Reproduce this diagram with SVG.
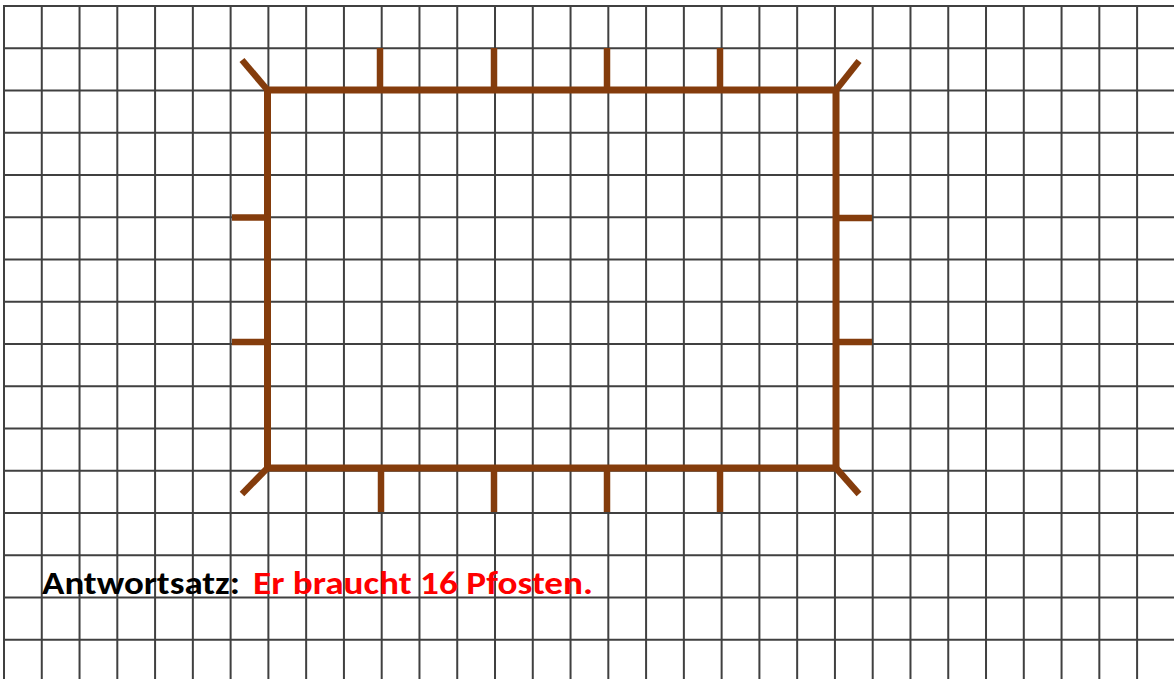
<svg xmlns="http://www.w3.org/2000/svg" width="1174" height="679" viewBox="0 0 1174 679">
<style>
.grid{fill:none;stroke:#404040;stroke-width:2}
.fence{fill:none;stroke:#843C0C;stroke-width:7;stroke-linejoin:miter}
.post{stroke:#843C0C;stroke-width:6.5;stroke-linecap:butt}
.txt{font-family:Carlito,Lato,"Liberation Sans",sans-serif;font-weight:900;font-size:33px}
</style>
<rect width="1174" height="679" fill="#ffffff"/>
<g id="grid">
<path class="grid" d="M4 6V679M41.77 6V679M79.54 6V679M117.31 6V679M155.08 6V679M192.85 6V679M230.62 6V679M268.39 6V679M306.16 6V679M343.93 6V679M381.7 6V679M419.47 6V679M457.24 6V679M495.01 6V679M532.78 6V679M570.55 6V679M608.32 6V679M646.09 6V679M683.86 6V679M721.63 6V679M759.4 6V679M797.17 6V679M834.94 6V679M872.71 6V679M910.48 6V679M948.25 6V679M986.02 6V679M1023.79 6V679M1061.56 6V679M1099.33 6V679M1137.1 6V679"/>
<path class="grid" d="M3 6H1174M3 48.25H1174M3 90.5H1174M3 132.75H1174M3 175H1174M3 217.25H1174M3 259.5H1174M3 301.75H1174M3 344H1174M3 386.25H1174M3 428.5H1174M3 470.75H1174M3 513H1174M3 555.25H1174M3 597.5H1174M3 639.75H1174"/>
</g>
<g id="fence">
<rect class="fence" x="267.5" y="90" width="568.5" height="378"/>
</g>
<g id="posts">
<line class="post" x1="267.5" y1="90" x2="242" y2="60"/>
<line class="post" x1="836" y1="90" x2="859" y2="61"/>
<line class="post" x1="267.5" y1="468" x2="242" y2="494"/>
<line class="post" x1="836" y1="468" x2="859" y2="494"/>
<line class="post" x1="380" y1="48" x2="380" y2="90"/>
<line class="post" x1="494" y1="48" x2="494" y2="90"/>
<line class="post" x1="607" y1="48" x2="607" y2="90"/>
<line class="post" x1="720" y1="48" x2="720" y2="90"/>
<line class="post" x1="381" y1="468" x2="381" y2="512"/>
<line class="post" x1="494" y1="468" x2="494" y2="512"/>
<line class="post" x1="607" y1="468" x2="607" y2="512"/>
<line class="post" x1="720" y1="468" x2="720" y2="512"/>
<line class="post" x1="232" y1="217.5" x2="267.5" y2="217.5"/>
<line class="post" x1="232" y1="342" x2="267.5" y2="342"/>
<line class="post" x1="836" y1="218" x2="872" y2="218"/>
<line class="post" x1="836" y1="342" x2="872" y2="342"/>
</g>
<g id="answer">
<text class="txt" x="42" y="594" fill="#000000" textLength="198" lengthAdjust="spacingAndGlyphs">Antwortsatz:</text>
<text class="txt" x="253" y="594" fill="#FF0000" textLength="340" lengthAdjust="spacingAndGlyphs">Er braucht 16 Pfosten.</text>
</g>
</svg>
